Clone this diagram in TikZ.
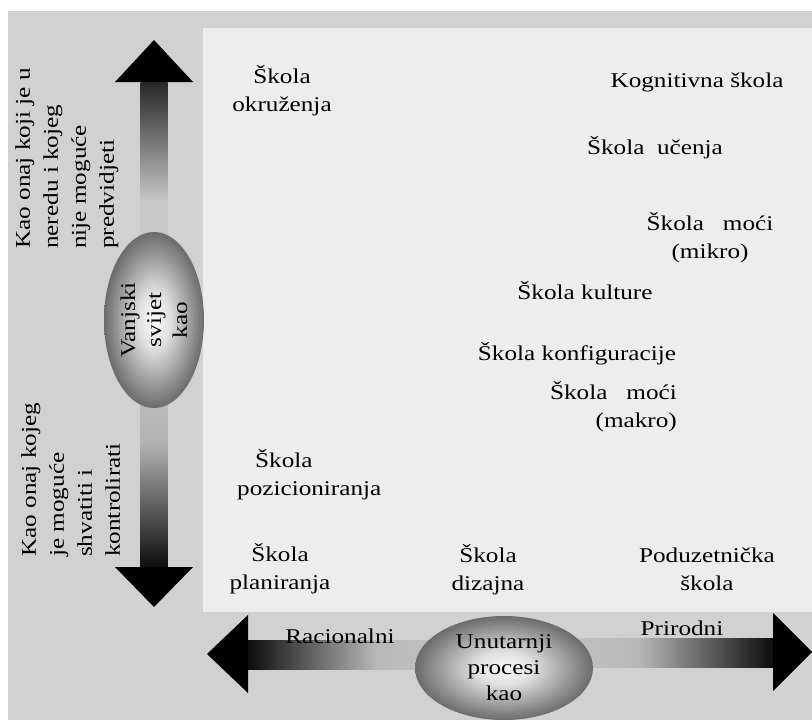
\documentclass[tikz,border=0pt]{standalone}
\usepackage{fontspec}
\setmainfont{Liberation Serif}[FakeStretch=1.2]
\usetikzlibrary{calc,shapes.geometric}
\pgfdeclareradialshading{egg}{\pgfpoint{0bp}{0bp}}{color(0bp)=(black!2); color(8bp)=(black!12); color(25bp)=(black!58); color(50bp)=(black!58)}
\colorlet{bggray}{black!18}
\colorlet{panelgray}{black!7}
\begin{document}
\begin{tikzpicture}[x=1pt,y=-1pt,
    txt/.style={inner sep=0pt,font=\fontsize{21}{28}\selectfont,align=center,anchor=base},
    oval/.style={ellipse,shading=egg,inner sep=0pt,font=\fontsize{21}{26}\selectfont,align=center}]
  \useasboundingbox (0,0) rectangle (812,720);
  \fill[white] (0,0) rectangle (812,720);
  \fill[bggray] (8,11) rectangle (812,720);
  \fill[panelgray] (203,28) rectangle (812,612);
  \coordinate (vt) at (154,40);
  \coordinate (vb) at (154,607);
  \coordinate (hl) at (207,654);
  \coordinate (hr) at (812,652);
  \coordinate (oc) at (154,320);
  \coordinate (ic) at (504,668);
  \shade[top color=black!85,bottom color=black!20,middle color=black!22] ($(vt)+(-13.5,42)$) rectangle ($(oc)+(13.5,0)$);
  \shade[top color=black!20,bottom color=black!95,middle color=black!30] ($(oc)+(-13.5,0)$) rectangle ($(vb)+(13.5,-40)$);
  \shade[left color=black!95,right color=black!20,middle color=black!28] ($(hl)+(41,-14)$) rectangle ($(hl -| ic)+(0,15)$);
  \shade[left color=black!20,right color=black!95,middle color=black!28] ($(hr -| ic)+(0,-14)$) rectangle ($(hr)+(-39,15)$);
  \fill (vt) -- ++(-39,42) -- ++(78,0) -- cycle;
  \fill (vb) -- ++(-39,-40) -- ++(78,0) -- cycle;
  \fill (hl) -- ++(41,-39) -- ++(0,78) -- cycle;
  \fill (hr) -- ++(-39,-39) -- ++(0,78) -- cycle;
  \node[oval,rotate=90,minimum width=176pt,minimum height=100pt] (out) at (oc) {Vanjski\\svijet\\kao};
  \node[oval,minimum width=178pt,minimum height=104pt] (in) at (ic) {Unutarnji\\procesi\\kao};
  \node[txt,rotate=90,align=left,anchor=north west] (nered) at (15,249) {Kao onaj koji je u\\neredu i kojeg\\nije moguće\\predvidjeti};
  \node[txt,rotate=90,align=left,anchor=north west] (red) at (21,557) {Kao onaj kojeg\\je moguće\\shvatiti i\\kontrolirati};
  \node[txt] (okr) at (282,111) {Škola\\okruženja};
  \node[txt] (kog) at (697,87) {Kognitivna škola};
  \node[txt] (uce) at (655,154) {Škola~~učenja};
  \node[txt] (mikro) at (710,258) {Škola~~~moći\\(mikro)};
  \node[txt] (kul) at (585,299) {Škola kulture};
  \node[txt] (konf) at (577,360) {Škola konfiguracije};
  \node[txt,align=right,anchor=base east] (makro) at (677,427) {Škola~~~moći\\(makro)};
  \node[txt,align=left,anchor=base west] (poz) at (237,495) {\hspace*{18pt}Škola\\pozicioniranja};
  \node[txt] (plan) at (280,589) {Škola\\planiranja};
  \node[txt] (diz) at (488,590) {Škola\\dizajna};
  \node[txt] (pod) at (707,590) {Poduzetnička\\škola};
  \node[txt] (rac) at (340,643) {Racionalni};
  \node[txt] (pri) at (682,635) {Prirodni};
\end{tikzpicture}
\end{document}
